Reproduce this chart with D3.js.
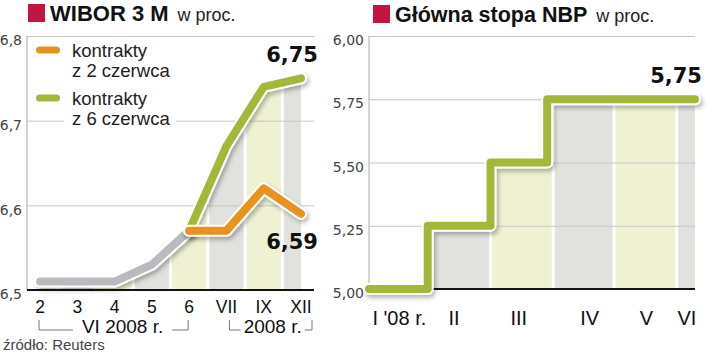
<!DOCTYPE html>
<html><head><meta charset="utf-8">
<script src="https://cdn.jsdelivr.net/npm/d3@7"></script>
<style>html,body{margin:0;padding:0;background:#fff;}svg{display:block;}</style>
</head><body>
<script>
// ---------- DATA ----------
const wiborCategories = ["2","3","4","5","6","VII","IX","XII"];
const grayCats   = ["2","3","4","5","6"];
const grayValues = [6.51, 6.51, 6.51, 6.53, 6.57];
const futCats    = ["6","VII","IX","XII"];
const orangeValues = [6.57, 6.57, 6.62, 6.59];   // kontrakty z 2 czerwca
const greenValues  = [6.57, 6.67, 6.74, 6.75];   // kontrakty z 6 czerwca
const wiborTicks = [6.5, 6.6, 6.7, 6.8];
const legendLabels = [["kontrakty","z 2 czerwca"],["kontrakty","z 6 czerwca"]];
const bracketLabels = ["VI 2008 r.", "2008 r."];

const nbpDates = ["2008-01-01","2008-01-30","2008-03-01","2008-03-29","2008-06-10"];
const nbpRates = [5.00, 5.25, 5.50, 5.75, 5.75];
const nbpTicks = [5.00, 5.25, 5.50, 5.75, 6.00];
const monthStarts = ["2008-01-01","2008-02-01","2008-03-01","2008-04-01","2008-05-01","2008-06-01"];
const monthLabels = ["I '08 r.","II","III","IV","V","VI"];
const monthLabelDates = ["2008-01-16","2008-02-12","2008-03-15","2008-04-19","2008-05-17","2008-06-06"];

// ---------- SETUP ----------
const W = 720, H = 355;
const SANS = "'Liberation Sans', Arial, sans-serif";
const NUM = "'DejaVu Sans', sans-serif";
const C = {green:"#a2b83a", orange:"#e8921f", gray:"#b9babd", bandG:"#e1e2dd", bandY:"#eff1d3", red:"#c2163f", grid:"#c6c6c6"};
const pl = d3.formatLocale({decimal:",", thousands:" ", grouping:[3], currency:["","zł"]});
const f1 = pl.format(".1f"), f2 = pl.format(".2f");
const parse = d3.timeParse("%Y-%m-%d");

const svg = d3.select("body").append("svg").attr("width", W).attr("height", H);
const defs = svg.append("defs");
const flt = defs.append("filter").attr("id","sh").attr("x","-20%").attr("y","-30%").attr("width","140%").attr("height","160%");
flt.append("feDropShadow").attr("dx",2).attr("dy",3).attr("stdDeviation",2).attr("flood-color","#000").attr("flood-opacity",0.28);

function drawLine(g, pts, x, y, color, curve) {
  const gen = d3.line().x(d => x(d[0])).y(d => y(d[1])).curve(curve || d3.curveLinear);
  g.append("path").attr("d", gen(pts)).attr("fill","none").attr("stroke","#fff").attr("stroke-width",12)
    .attr("stroke-linejoin","round").attr("stroke-linecap","round").attr("filter","url(#sh)");
  g.append("path").attr("d", gen(pts)).attr("fill","none").attr("stroke",color).attr("stroke-width",8)
    .attr("stroke-linejoin","round").attr("stroke-linecap","round");
}

function title(g, sqX, sqY, tx, ty, size, main) {
  g.append("rect").attr("x",sqX).attr("y",sqY).attr("width",17).attr("height",18).attr("fill",C.red);
  const t = g.append("text").attr("x",tx).attr("y",ty).attr("font-family",SANS).attr("font-weight","bold")
    .attr("font-size",size).attr("fill","#111").text(main);
  const bb = t.node().getBBox();
  g.append("text").attr("x",bb.x+bb.width+9).attr("y",ty).attr("font-family",SANS).attr("font-size",18)
    .attr("fill","#222").text("w proc.");
}

// ---------- LEFT CHART: WIBOR 3M ----------
{
  const x0 = 27, x1 = 314, yT = 36, yB = 290;
  const x = d3.scalePoint().domain(wiborCategories).range([x0, x1]).padding(0.35);
  const y = d3.scaleLinear().domain([6.5, 6.8]).range([yB, yT]);
  const g = svg.append("g");

  title(g, 28, 4, 50, 21, 22, "WIBOR 3 M");

  // envelope (gray then green) for the band clip
  const env = grayCats.map((c,i)=>[c, grayValues[i]]).concat(futCats.slice(1).map((c,i)=>[c, greenValues[i+1]]));
  const area = d3.area().x(d => x(d[0])).y0(yB).y1(d => y(d[1]));
  defs.append("clipPath").attr("id","clipL").append("path").attr("d", area(env));
  const bands = g.append("g").attr("clip-path","url(#clipL)");
  wiborCategories.forEach((c,i) => {
    const a = i === 0 ? x0 : (x(wiborCategories[i-1]) + x(c)) / 2 + 1.5;
    const b = i === wiborCategories.length-1 ? x1 : (x(c) + x(wiborCategories[i+1])) / 2 - 1.5;
    bands.append("rect").attr("x",a).attr("y",yT).attr("width",b-a).attr("height",yB-yT)
      .attr("fill", i % 2 === 0 ? C.bandY : C.bandG);
  });

  // grid + y labels
  const ax = g.append("g").attr("transform",`translate(${x0},0)`)
    .call(d3.axisLeft(y).tickValues(wiborTicks).tickSize(-(x1-x0)).tickPadding(5).tickFormat(f1));
  ax.select(".domain").remove();
  ax.selectAll("line").attr("stroke",C.grid);
  ax.selectAll("text").attr("font-family",NUM).attr("font-size",14).attr("fill","#444").attr("dy","0.62em");
  g.append("line").attr("x1",x0).attr("x2",x0).attr("y1",yT).attr("y2",yB).attr("stroke","#aaa");
  g.append("line").attr("x1",x0).attr("x2",x1).attr("y1",yB).attr("y2",yB).attr("stroke","#111").attr("stroke-width",2);

  // legend
  const leg = g.append("g");
  const legColors = [C.orange, C.green];
  legendLabels.forEach((lines, k) => {
    const base = 57 + k*48;
    const tg = leg.append("g");
    const rect = tg.append("rect").attr("fill","#fff");
    lines.forEach((t, j) => tg.append("text").attr("x",72).attr("y",base + j*20).attr("font-family",SANS)
      .attr("font-size",18.5).attr("fill","#222").text(t));
    const bb = tg.node().getBBox();
    rect.attr("x",bb.x-8).attr("y",bb.y-2).attr("width",bb.width+14).attr("height",bb.height+4);
    leg.append("line").attr("x1",39.5).attr("x2",56.5).attr("y1",base-7).attr("y2",base-7)
      .attr("stroke",legColors[k]).attr("stroke-width",7).attr("stroke-linecap","round");
  });

  // lines
  drawLine(g, grayCats.map((c,i)=>[c,grayValues[i]]), x, y, C.gray);
  drawLine(g, futCats.map((c,i)=>[c,greenValues[i]]), x, y, C.green);
  drawLine(g, futCats.map((c,i)=>[c,orangeValues[i]]), x, y, C.orange);

  // value labels
  const last = futCats[futCats.length-1];
  const gv = greenValues[greenValues.length-1], ov = orangeValues[orangeValues.length-1];
  g.append("text").attr("x",x(last)+17).attr("y",y(gv)-16).attr("text-anchor","end").attr("font-family",NUM)
    .attr("font-weight","bold").attr("font-size",21).attr("fill","#111").text(f2(gv));
  g.append("text").attr("x",x(last)+17).attr("y",y(ov)+35).attr("text-anchor","end").attr("font-family",NUM)
    .attr("font-weight","bold").attr("font-size",21).attr("fill","#111").text(f2(ov));

  // x labels
  wiborCategories.forEach(c => g.append("text").attr("x",x(c)).attr("y",313).attr("text-anchor","middle")
    .attr("font-family",SANS).attr("font-size",17.5).attr("fill","#111").text(c));

  // brackets
  const brackets = [
    {a: x("2")-1, b: x("6")-1, label: bracketLabels[0], shift: 9, gap: 9},
    {a: x("VII")+3, b: x1-2, label: bracketLabels[1], shift: 2, gap: 3}
  ];
  brackets.forEach(br => {
    const t = g.append("text").attr("x",(br.a+br.b)/2 + br.shift).attr("y",333).attr("text-anchor","middle")
      .attr("font-family",SANS).attr("font-size",19).attr("fill","#111").text(br.label);
    const bb = t.node().getBBox();
    g.append("path").attr("d",
      `M${br.a},320V330H${bb.x-br.gap} M${bb.x+bb.width+br.gap},330H${br.b}V320`)
      .attr("stroke","#777").attr("stroke-width",1).attr("fill","none");
  });

  g.append("text").attr("x",3).attr("y",350).attr("font-family",SANS).attr("font-size",15).attr("fill","#444").text("źródło: Reuters");
}

// ---------- RIGHT CHART: NBP ----------
{
  const x0 = 369, x1 = 695, yT = 36, yB = 289;
  const x = d3.scaleTime().domain([parse("2008-01-01"), parse("2008-06-10")]).range([x0, x1]);
  const y = d3.scaleLinear().domain([5, 6]).range([yB, yT]);
  const g = svg.append("g");

  title(g, 373, 5, 395, 22, 21.5, "Główna stopa NBP");

  const pts = nbpDates.map((d,i)=>[parse(d), nbpRates[i]]);
  const area = d3.area().x(d => x(d[0])).y0(yB).y1(d => y(d[1])).curve(d3.curveStepAfter);
  defs.append("clipPath").attr("id","clipR").append("path").attr("d", area(pts));
  const bands = g.append("g").attr("clip-path","url(#clipR)");
  monthStarts.forEach((m,i) => {
    const a = i === 0 ? x0 : x(parse(m)) + 1.5;
    const b = i === monthStarts.length-1 ? x1 : x(parse(monthStarts[i+1])) - 1.5;
    bands.append("rect").attr("x",a).attr("y",yT).attr("width",b-a).attr("height",yB-yT)
      .attr("fill", i % 2 === 0 ? C.bandY : C.bandG);
  });

  const ax = g.append("g").attr("transform",`translate(${x0},0)`)
    .call(d3.axisLeft(y).tickValues(nbpTicks).tickSize(-(x1-x0)).tickPadding(5).tickFormat(f2));
  ax.select(".domain").remove();
  ax.selectAll("line").attr("stroke",C.grid);
  ax.selectAll("text").attr("font-family",NUM).attr("font-size",14).attr("fill","#444").attr("dy","0.62em");
  g.append("line").attr("x1",x0).attr("x2",x0).attr("y1",yT).attr("y2",yB).attr("stroke","#aaa");
  g.append("line").attr("x1",x0).attr("x2",x1).attr("y1",yB).attr("y2",yB).attr("stroke","#111").attr("stroke-width",2);

  const lineGen = d3.line().x(d => x(d[0])).y(d => y(d[1])).curve(d3.curveStepAfter);
  g.append("path").attr("d", lineGen(pts)).attr("fill","none").attr("stroke","#fff").attr("stroke-width",12)
    .attr("stroke-linejoin","round").attr("stroke-linecap","round").attr("filter","url(#sh)");
  g.append("path").attr("d", lineGen(pts)).attr("fill","none").attr("stroke",C.green).attr("stroke-width",8)
    .attr("stroke-linejoin","round").attr("stroke-linecap","round");

  const lv = nbpRates[nbpRates.length-1];
  g.append("text").attr("x",x1+7).attr("y",y(lv)-16).attr("text-anchor","end").attr("font-family",NUM)
    .attr("font-weight","bold").attr("font-size",21).attr("fill","#111").text(f2(lv));

  monthLabels.forEach((t,i) => g.append("text").attr("x",x(parse(monthLabelDates[i]))).attr("y",325)
    .attr("text-anchor","middle").attr("font-family",SANS).attr("font-size",20).attr("fill","#111").text(t));
}
</script>
</body></html>
